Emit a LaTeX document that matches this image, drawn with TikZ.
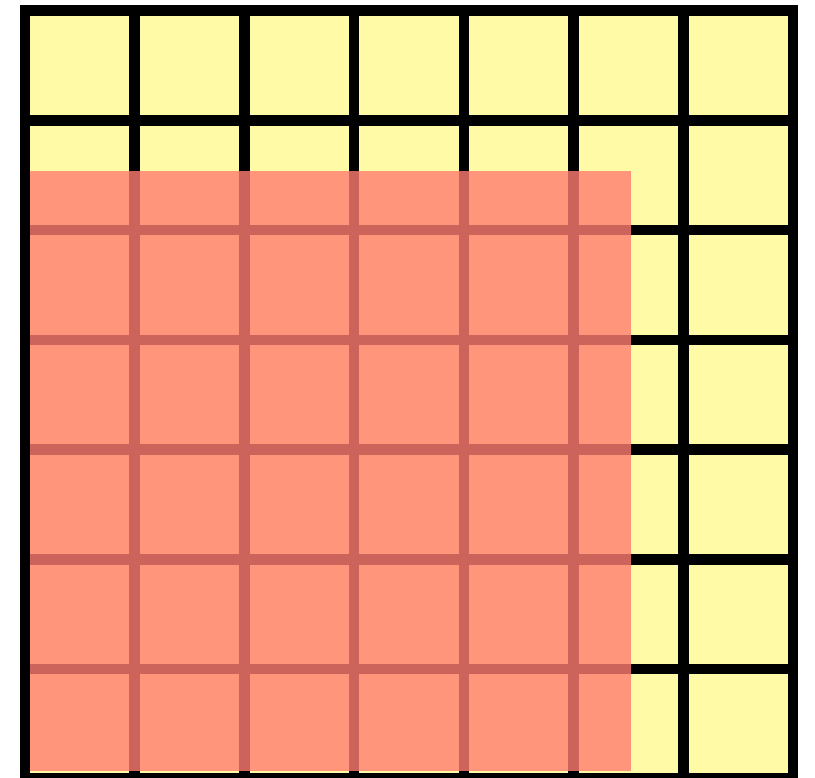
\documentclass[tikz,border=0pt]{standalone}
\definecolor{cellyellow}{RGB}{255,250,165}
\definecolor{overlaysalmon}{RGB}{255,126,114}
\tikzset{
  gridline/.style={line width=10.5pt, black, line cap=rect},
  overlay/.style={fill=overlaysalmon, fill opacity=0.8, draw=none}
}
\begin{document}
\begin{tikzpicture}[x=1pt,y=-1pt]
\useasboundingbox (0,0) rectangle (815,778);
\fill[white] (0,0) rectangle (815,778);
% yellow board
\fill[cellyellow] (25,10.7) rectangle (793,778.7);
% vertical lines
\foreach \x in {25,134.7,244.4,354.1,463.9,573.6,683.3,793}
  \draw[gridline] (\x,10.7) -- (\x,778.7);
% horizontal lines
\foreach \y in {10.7,120.4,230.1,339.8,449.6,559.3,669,778.7}
  \draw[gridline] (25,\y) -- (793,\y);
% salmon overlay
\fill[overlay] (30.3,171) rectangle (631,771);
\end{tikzpicture}
\end{document}
